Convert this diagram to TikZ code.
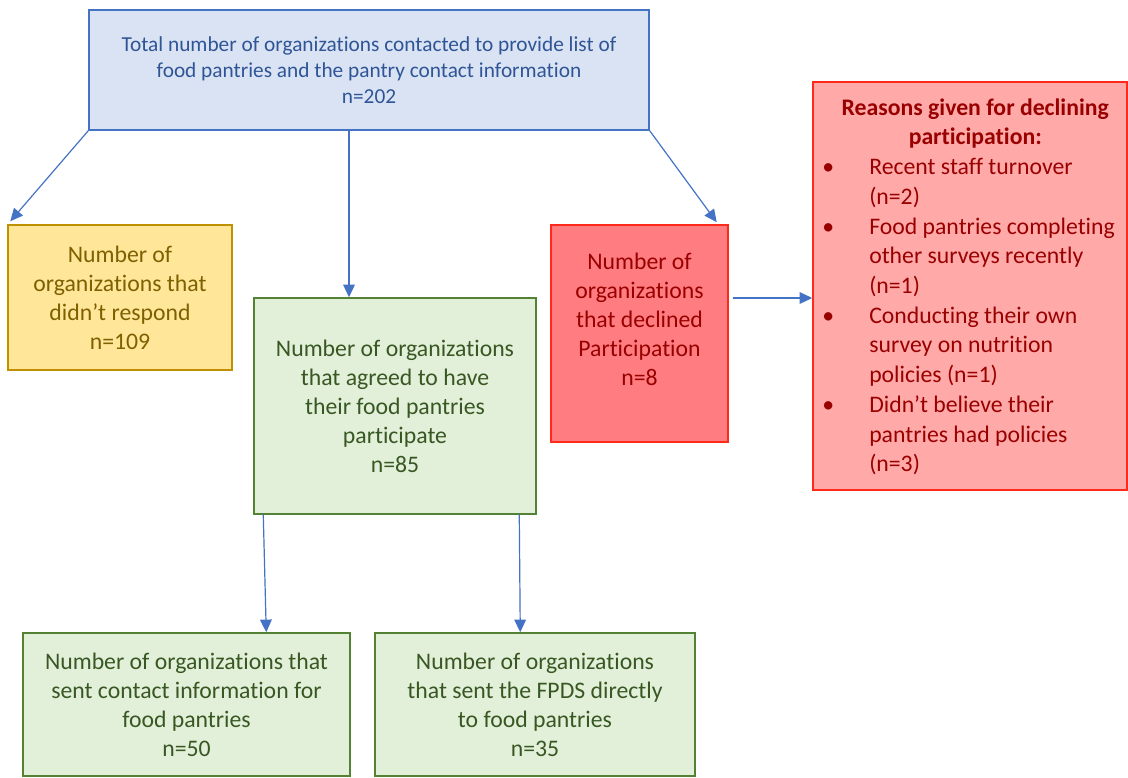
\documentclass[tikz,border=0pt]{standalone}
\usepackage{fontspec}
\setmainfont{Carlito}[Ligatures=NoCommon]
\usetikzlibrary{arrows.meta,calc}
\definecolor{bluefill}{HTML}{DAE3F3}
\definecolor{blueline}{HTML}{4472C4}
\definecolor{bluetext}{HTML}{2F5597}
\definecolor{yelfill}{HTML}{FFE699}
\definecolor{yelline}{HTML}{BF9000}
\definecolor{yeltext}{HTML}{7F6000}
\definecolor{grnfill}{HTML}{E2F0D9}
\definecolor{grnline}{HTML}{548235}
\definecolor{grntext}{HTML}{385723}
\definecolor{redfill}{HTML}{FF7C80}
\definecolor{pinkfill}{HTML}{FFA9A9}
\definecolor{redline}{HTML}{FF2A1A}
\definecolor{redtext}{HTML}{990000}
\begin{document}
\begin{tikzpicture}[x=0.75pt,y=-0.75pt,
  box/.style={draw, line width=1.1pt, align=center, inner sep=0pt},
  bluebox/.style={box, fill=bluefill, draw=blueline, text=bluetext,
    font=\fontsize{16}{19.5}\selectfont},
  yelbox/.style={box, fill=yelfill, draw=yelline, text=yeltext,
    font=\fontsize{17.8}{21.75}\selectfont},
  grnbox/.style={box, fill=grnfill, draw=grnline, text=grntext,
    font=\fontsize{17.8}{21.75}\selectfont},
  redbox/.style={box, fill=redfill, draw=redline, text=redtext,
    font=\fontsize{17.8}{21.75}\selectfont},
  pinkbox/.style={box, fill=pinkfill, draw=redline},
  arr/.style={draw=blueline, line width=0.9pt,
    -{Triangle[length=9.5pt,width=8.75pt]}}
]
\useasboundingbox (0,0) rectangle (1128,778);

\node[bluebox, minimum width=420pt, minimum height=90pt] (top) at (369,70)
  {Total number of organizations contacted to provide list of\\
   food pantries and the pantry contact information\\ n=202};

\node[yelbox, minimum width=168pt, minimum height=108.75pt] (yellow) at (120,297.5)
  {Number of\\organizations that\\didn’t respond\\n=109};

\node[grnbox, minimum width=211.5pt, minimum height=162pt] (green) at (395,406)
  {Number of organizations\\that agreed to have\\their food pantries\\participate\\n=85};

\node[redbox, minimum width=132.75pt, minimum height=162.75pt] (declined) at (639.5,333.5)
  {Number of\\organizations\\that declined\\Participation\\n=8\\\mbox{}};

\node[pinkbox, minimum width=235.5pt, minimum height=306pt] (reasons) at (970,286) {};
\node[anchor=north west, inner sep=0pt, text=redtext,
  font=\fontsize{17.8}{22.3}\selectfont] (reasonstext) at (822,94)
  {\begin{tabular}{@{}p{35.25pt}@{}p{194.25pt}@{}}
   \multicolumn{2}{c}{\bfseries Reasons given for declining}\\
   \multicolumn{2}{c}{\bfseries participation:}\\
   \textbullet & Recent staff turnover\\
   & (n=2)\\
   \textbullet & Food pantries completing\\
   & other surveys recently\\
   & (n=1)\\
   \textbullet & Conducting their own\\
   & survey on nutrition\\
   & policies (n=1)\\
   \textbullet & Didn’t believe their\\
   & pantries had policies\\
   & (n=3)
   \end{tabular}};

\node[grnbox, minimum width=245.25pt, minimum height=107.25pt] (sentcontact) at (186.5,704.5)
  {Number of organizations that\\sent contact information for\\food pantries\\n=50};

\node[grnbox, minimum width=240pt, minimum height=107.25pt] (sentfpds) at (535,704.5)
  {Number of organizations\\that sent the FPDS directly\\to food pantries\\n=35};

% connectors
\draw[arr] (top.south west) -- ($(yellow.north west)+(3,-3)$);
\draw[arr] ($(top.south)+(-20,0)$) -- ($(green.north)+(-46,0)$);
\draw[arr] (top.south east) -- ($(declined.north east)+(-12,-2)$);
\coordinate (hstart) at ($(declined.east)+(4,-35.5)$);
\draw[arr] (hstart) -- (hstart -| reasons.west);
\draw[arr] ($(green.south west)+(10,0)$) -- ($(sentcontact.north west)+(244,0)$);
\draw[arr] ($(green.south west)+(266,0)$) -- ($(sentfpds.north west)+(146,0)$);
\end{tikzpicture}
\end{document}
